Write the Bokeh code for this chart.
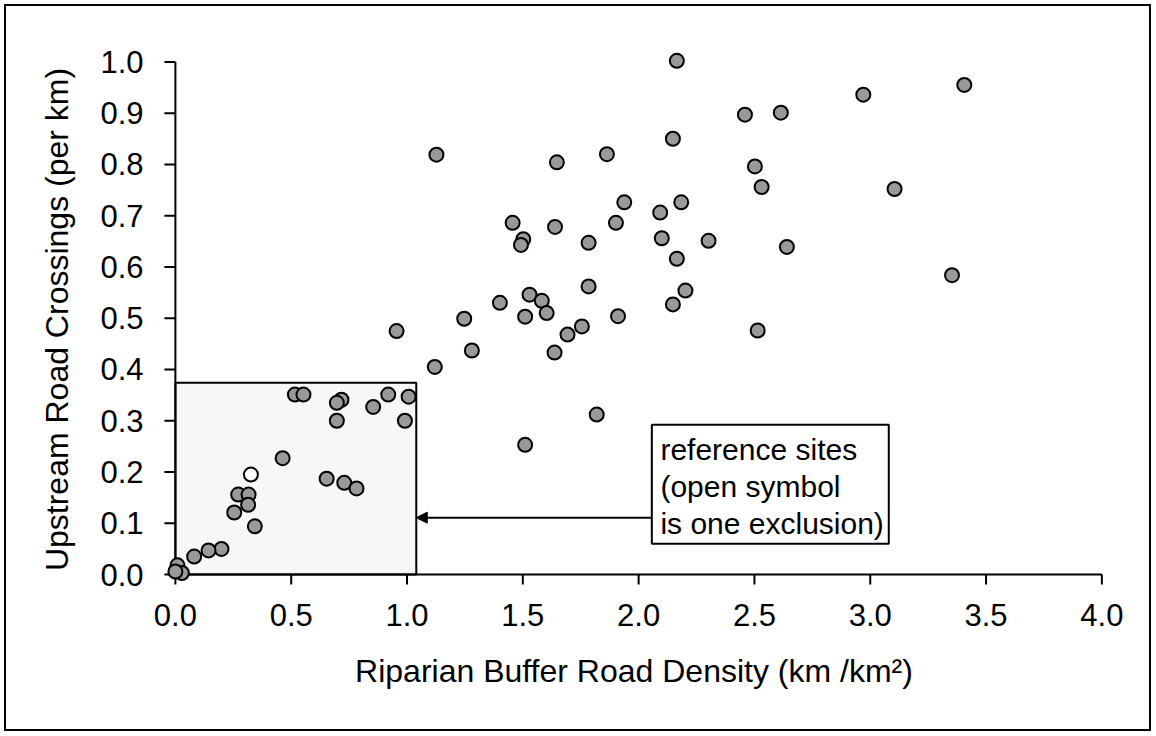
from bokeh.plotting import figure
from bokeh.embed import file_html
from bokeh.resources import INLINE
from bokeh.models import (FixedTicker, PrintfTickFormatter, BoxAnnotation, Arrow,
                          NormalHead, Label, ColumnDataSource, Range1d)

# ---- data ----
road_density = [2.165, 3.406, 2.970, 2.459, 2.614, 1.127, 1.863, 1.647, 2.148, 2.502,
                2.531, 3.105, 1.938, 2.184, 2.093, 1.456, 1.639, 1.902, 1.502, 1.492,
                1.784, 2.100, 2.302, 2.640, 2.165, 3.353, 1.784, 2.202, 1.529, 1.582,
                1.401, 1.603, 1.510, 1.911, 2.148, 1.247, 2.514, 1.755, 1.693, 1.637,
                1.280, 1.120, 0.955, 1.819, 1.510,
                0.516, 0.553, 0.717, 0.697, 0.697, 0.854, 0.919, 1.007, 0.991, 0.463,
                0.653, 0.729, 0.782, 0.271, 0.316, 0.314, 0.254, 0.343, 0.199, 0.143,
                0.081, 0.009, 0.028, 0.000]
crossings = [1.002, 0.955, 0.936, 0.897, 0.901, 0.819, 0.820, 0.804, 0.850, 0.796,
             0.756, 0.752, 0.726, 0.726, 0.706, 0.686, 0.678, 0.686, 0.654, 0.643,
             0.647, 0.656, 0.651, 0.639, 0.616, 0.584, 0.562, 0.554, 0.546, 0.534,
             0.530, 0.510, 0.503, 0.504, 0.527, 0.499, 0.476, 0.484, 0.468, 0.433,
             0.437, 0.405, 0.475, 0.312, 0.253,
             0.351, 0.351, 0.341, 0.335, 0.300, 0.327, 0.351, 0.347, 0.300, 0.227,
             0.187, 0.179, 0.168, 0.156, 0.156, 0.136, 0.121, 0.094, 0.050, 0.047,
             0.035, 0.018, 0.003, 0.006]
excluded_density = [0.326]
excluded_crossings = [0.195]

x_ticks = [0.0, 0.5, 1.0, 1.5, 2.0, 2.5, 3.0, 3.5, 4.0]
y_ticks = [0.0, 0.1, 0.2, 0.3, 0.4, 0.5, 0.6, 0.7, 0.8, 0.9, 1.0]

note_lines = ["reference sites", "(open symbol", "is one exclusion)"]

FONT = "Liberation Sans"

p = figure(frame_width=945, frame_height=546,
           x_range=Range1d(-0.06, 4.02), y_range=Range1d(-0.035, 1.03),
           output_backend="svg", toolbar_location=None,
           min_border_left=155, min_border_right=43,
           min_border_top=40, min_border_bottom=137)
p.styles = {"border": "2px solid black", "margin": "4px 0px 0px 4px"}
p.background_fill_color = "white"
p.border_fill_color = "white"
p.outline_line_color = None
p.xgrid.grid_line_color = None
p.ygrid.grid_line_color = None

for ax in (p.xaxis[0], p.yaxis[0]):
    ax.axis_line_color = None
    ax.major_tick_line_color = None
    ax.minor_tick_line_color = None
    ax.major_tick_in = 0
    ax.major_tick_out = 0
    ax.formatter = PrintfTickFormatter(format="%.1f")
    ax.major_label_text_font = FONT
    ax.major_label_text_font_size = "31px"
    ax.major_label_text_color = "black"
    ax.axis_label_text_font = FONT
    ax.axis_label_text_font_size = "32px"
    ax.axis_label_text_font_style = "normal"
    ax.axis_label_text_color = "black"

p.xaxis.ticker = FixedTicker(ticks=x_ticks)
p.yaxis.ticker = FixedTicker(ticks=y_ticks)
p.xaxis.axis_label = "Riparian Buffer Road Density (km /km²)"
p.yaxis.axis_label = "Upstream Road Crossings (per km)"
p.xaxis.major_label_standoff = 11
p.yaxis.major_label_standoff = 18
p.xaxis.axis_label_standoff = 24
p.yaxis.axis_label_standoff = 22

# shaded reference-site box
p.add_layout(BoxAnnotation(left=0, right=1.04, bottom=0, top=0.374,
                           fill_color="#f7f7f7", fill_alpha=1.0,
                           line_color="black", line_alpha=1.0, line_width=2,
                           level="underlay"))

# axis lines and tick marks drawn at the data origin
p.segment(x0=[0], y0=[0], x1=[x_ticks[-1]], y1=[0], line_color="black", line_width=2)
p.segment(x0=[0], y0=[0], x1=[0], y1=[y_ticks[-1]], line_color="black", line_width=2)
p.segment(x0=x_ticks, y0=[0] * len(x_ticks), x1=x_ticks, y1=[-0.0195] * len(x_ticks),
          line_color="black", line_width=2)
p.segment(x0=[-0.0475] * len(y_ticks), y0=y_ticks, x1=[0] * len(y_ticks), y1=y_ticks,
          line_color="black", line_width=2)

src = ColumnDataSource(dict(x=road_density, y=crossings))
p.scatter("x", "y", source=src, size=14, fill_color="#999999",
          line_color="black", line_width=2)
src2 = ColumnDataSource(dict(x=excluded_density, y=excluded_crossings))
p.scatter("x", "y", source=src2, size=14, fill_color="white",
          line_color="black", line_width=2)

# annotation box with arrow
p.add_layout(BoxAnnotation(left=2.057, right=3.08, bottom=0.060, top=0.292,
                           fill_color="white", fill_alpha=1.0,
                           line_color="black", line_alpha=1.0, line_width=2))
p.add_layout(Arrow(x_start=2.057, y_start=0.111, x_end=1.04, y_end=0.111,
                   line_color="black", line_width=2,
                   end=NormalHead(size=11, fill_color="black", line_color="black")))
for txt, yy in zip(note_lines, [0.243, 0.172, 0.099]):
    p.add_layout(Label(x=2.094, y=yy, text=txt, text_font=FONT,
                       text_font_size="30px", text_color="black",
                       text_baseline="alphabetic", text_align="left"))

open("out.html", "w").write(file_html(p, INLINE))
